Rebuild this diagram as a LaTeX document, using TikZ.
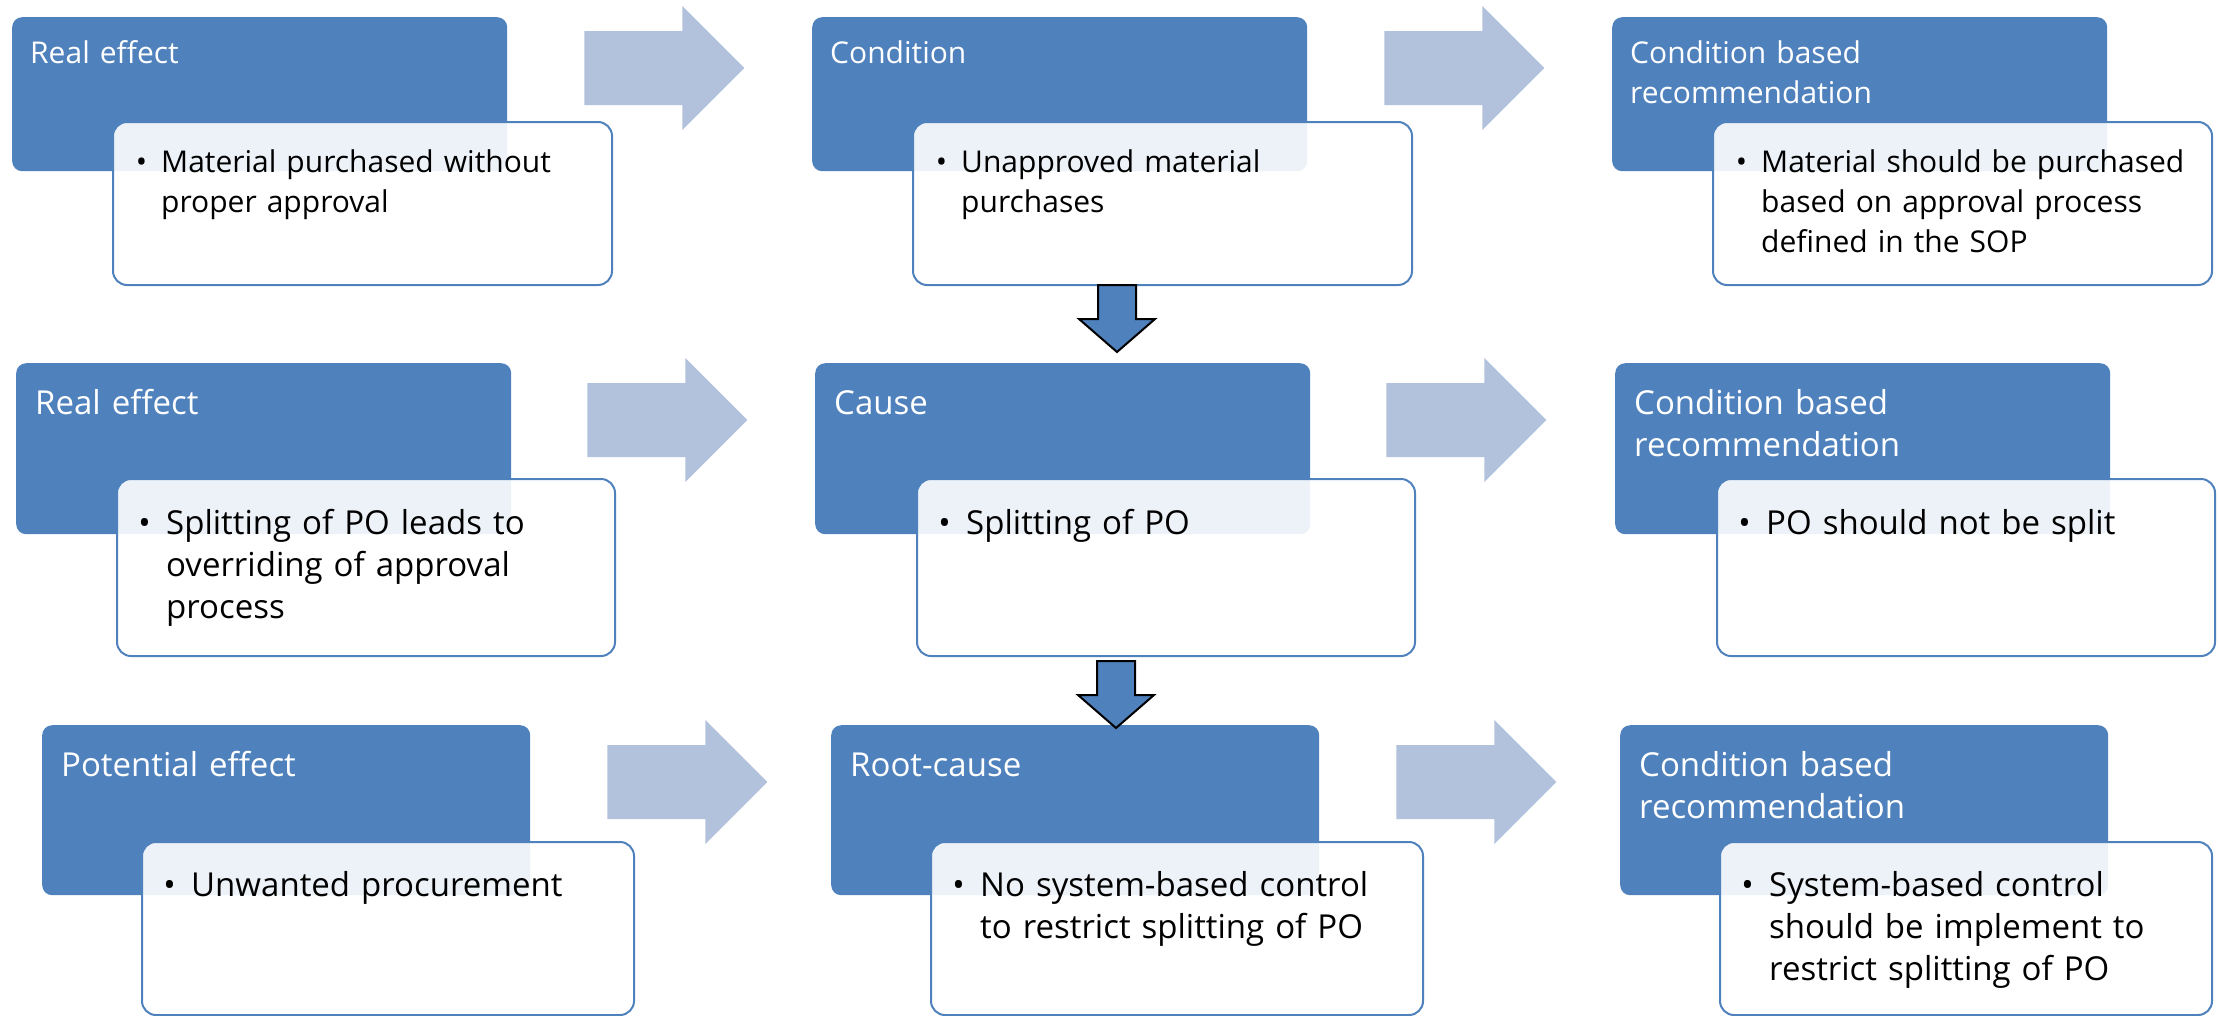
\documentclass[tikz,border=0pt]{standalone}
\usepackage{fontspec}
\setmainfont{Open Sans}
\usepackage{tikz}
\usetikzlibrary{positioning}
\usepackage{xcolor}
\definecolor{boxblue}{HTML}{4F81BD}
\definecolor{arrowfill}{HTML}{B2C2DC}
\tikzset{bluebox/.style={fill=boxblue,rounded corners=10pt,inner sep=0pt,anchor=north west}}
\tikzset{cardbox/.style={draw=boxblue,line width=2pt,fill=white,fill opacity=0.9,rounded corners=14pt,inner sep=0pt,anchor=north west}}
\tikzset{headtext/.style={text=white,font=\fontsize{30}{40}\selectfont,align=left,text width=440pt,inner sep=0pt,anchor=base west}}
\tikzset{bodytext/.style={text=black,font=\fontsize{30}{40}\selectfont,align=left,text width=440pt,inner sep=0pt,anchor=base west}}
\tikzset{larger/.style={font=\fontsize{33}{42}\selectfont}}
\tikzset{rarrow/.pic={\fill[arrowfill] (0,-37) -- (98,-37) -- (98,-62) -- (160,0) -- (98,62) -- (98,37) -- (0,37) -- cycle;}}
\tikzset{darrow/.pic={\filldraw[fill=boxblue,draw=black,line width=2pt,line join=miter] (-19,0) -- (19,0) -- (19,34) -- (38,34) -- (0,67) -- (-38,34) -- (-19,34) -- cycle;}}
\newcommand{\bul}{\llap{\textbullet\hspace{0.47em}}}

\begin{document}
\begin{tikzpicture}[x=1pt,y=-1pt]
\useasboundingbox (0,0) rectangle (2218,1015);
% row 1
\node (b11) [bluebox,minimum width=495pt,minimum height=154pt] at (12,17) {};
\node (b12) [bluebox,minimum width=495pt,minimum height=154pt] at (812,17) {};
\node (b13) [bluebox,minimum width=495pt,minimum height=154pt] at (1612,17) {};
\node (t11) [headtext] at ([shift={(18,46)}]b11.north west) {Real effect};
\node (t12) [headtext] at ([shift={(18,46)}]b12.north west) {Condition};
\node (t13) [headtext] at ([shift={(18,46)}]b13.north west) {Condition based\\recommendation};
\node (w11) [cardbox,minimum width=499pt,minimum height=163pt] at (112,121) {};
\node (w12) [cardbox,minimum width=499pt,minimum height=163pt] at (912,121) {};
\node (w13) [cardbox,minimum width=499pt,minimum height=163pt] at (1712,121) {};
\node (s11) [bodytext] at ([shift={(49,51)}]w11.north west) {\bul Material purchased without\\proper approval};
\node (s12) [bodytext] at ([shift={(49,51)}]w12.north west) {\bul Unapproved material\\purchases};
\node (s13) [bodytext] at ([shift={(49,51)}]w13.north west) {\bul Material should be purchased\\based on approval process\\defined in the SOP};
\pic at ([shift={(77,51)}]b11.north east) {rarrow};
\pic at ([shift={(77,51)}]b12.north east) {rarrow};
% row 2
\node (b21) [bluebox,minimum width=495pt,minimum height=171pt] at (16,363) {};
\node (b22) [bluebox,minimum width=495pt,minimum height=171pt] at (815,363) {};
\node (b23) [bluebox,minimum width=495pt,minimum height=171pt] at (1615,363) {};
\node (t21) [headtext,larger] at ([shift={(19,51)}]b21.north west) {Real effect};
\node (t22) [headtext,larger] at ([shift={(19,51)}]b22.north west) {Cause};
\node (t23) [headtext,larger] at ([shift={(19,51)}]b23.north west) {Condition based\\recommendation};
\node (w21) [cardbox,minimum width=498pt,minimum height=177pt] at (116,478) {};
\node (w22) [cardbox,minimum width=498pt,minimum height=177pt] at (916,478) {};
\node (w23) [cardbox,minimum width=498pt,minimum height=177pt] at (1716,478) {};
\node (s21) [bodytext,larger] at ([shift={(50,56)}]w21.north west) {\bul Splitting of PO leads to\\overriding of approval\\process};
\node (s22) [bodytext,larger] at ([shift={(50,56)}]w22.north west) {\bul Splitting of PO};
\node (s23) [bodytext,larger] at ([shift={(50,56)}]w23.north west) {\bul PO should not be split};
\pic at ([shift={(76,57)}]b21.north east) {rarrow};
\pic at ([shift={(76,57)}]b22.north east) {rarrow};
% row 3
\node (b31) [bluebox,minimum width=488pt,minimum height=170pt] at (42,725) {};
\node (b32) [bluebox,minimum width=488pt,minimum height=170pt] at (831,725) {};
\node (b33) [bluebox,minimum width=488pt,minimum height=170pt] at (1620,725) {};
\node (t31) [headtext,larger] at ([shift={(19,51)}]b31.north west) {Potential effect};
\node (t32) [headtext,larger] at ([shift={(19,51)}]b32.north west) {Root-cause};
\node (t33) [headtext,larger] at ([shift={(19,51)}]b33.north west) {Condition based\\recommendation};
\node (w31) [cardbox,minimum width=492pt,minimum height=173pt] at (141,841) {};
\node (w32) [cardbox,minimum width=492pt,minimum height=173pt] at (930,841) {};
\node (w33) [cardbox,minimum width=492pt,minimum height=173pt] at (1719,841) {};
\node (s31) [bodytext,larger] at ([shift={(50,55)}]w31.north west) {\bul Unwanted procurement};
\node (s32) [bodytext,larger] at ([shift={(50,55)}]w32.north west) {\bul No system-based control\\to restrict splitting of PO};
\node (s33) [bodytext,larger] at ([shift={(50,55)}]w33.north west) {\bul System-based control\\should be implement to\\restrict splitting of PO};
\pic at ([shift={(77,57)}]b31.north east) {rarrow};
\pic at ([shift={(77,57)}]b32.north east) {rarrow};
% down arrows
\pic at ([shift={(205,-1)}]w12.south west) {darrow};
\pic at ([shift={(200,4)}]w22.south west) {darrow};
\end{tikzpicture}
\end{document}
